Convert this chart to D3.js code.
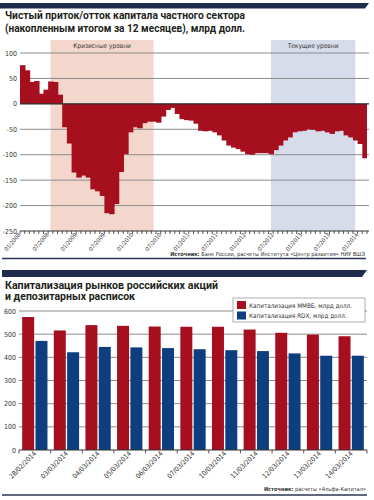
<!DOCTYPE html>
<html>
<head>
<meta charset="utf-8">
<script src="https://cdn.jsdelivr.net/npm/d3@7"></script>
<style>
body { margin: 0; background: #fff; }
svg { display: block; }
text { font-family: "Liberation Sans Narrow", "DejaVu Sans Condensed", "Roboto", sans-serif; fill: #333; }
.title { font-family: "Roboto", "Noto Sans", sans-serif; font-weight: bold; fill: #231f20; }
</style>
</head>
<body>
<svg id="chart" width="374" height="500"></svg>
<script>
// Top chart: monthly net private capital flow, bn USD
const months = [
    '01/2008','02/2008','03/2008','04/2008','05/2008','06/2008','07/2008','08/2008','09/2008','10/2008','11/2008','12/2008',
    '01/2009','02/2009','03/2009','04/2009','05/2009','06/2009','07/2009','08/2009','09/2009','10/2009','11/2009','12/2009',
    '01/2010','02/2010','03/2010','04/2010','05/2010','06/2010','07/2010','08/2010','09/2010','10/2010','11/2010','12/2010',
    '01/2011','02/2011','03/2011','04/2011','05/2011','06/2011','07/2011','08/2011','09/2011','10/2011','11/2011','12/2011',
    '01/2012','02/2012','03/2012','04/2012','05/2012','06/2012','07/2012','08/2012','09/2012','10/2012','11/2012','12/2012',
    '01/2013','02/2013','03/2013','04/2013','05/2013','06/2013','07/2013','08/2013','09/2013','10/2013','11/2013','12/2013',
    '01/2014','02/2014'
];
const flows = [
    76, 66, 43, 45, 20, 28, 44, 43, 18, -46, -78, -135,
    -145, -141, -145, -168, -172, -181, -215, -217, -197, -134, -99, -56,
    -46, -48, -38, -35, -35, -37, -25, -12, -8, -20, -30, -32,
    -33, -39, -53, -54, -53, -56, -62, -72, -82, -86, -89, -94,
    -99, -100, -97, -97, -97, -99, -91, -82, -72, -66, -56, -54,
    -53, -50, -51, -54, -53, -56, -59, -54, -53, -62, -66, -72,
    -79, -107
];
const monthTicks = ['01/2008','07/2008','01/2009','07/2009','01/2010','07/2010','01/2011',
    '07/2011','01/2012','07/2012','01/2013','07/2013','01/2014'];
const flowTicks = [100, 50, 0, -50, -100, -150, -200, -250];
const zoneLabels = ['Кризисные уровни', 'Текущие уровни'];
const zoneFrom = ['07/2008', '06/2012'];
const zoneTo = ['05/2010', '12/2013'];

// Bottom chart: market capitalisation, bn USD
const dates = ['28/02/2014','03/03/2014','04/03/2014','05/03/2014','06/03/2014','07/03/2014',
    '10/03/2014','11/03/2014','12/03/2014','13/03/2014','14/03/2014'];
const mmvb = [574, 516, 539, 536, 533, 532, 532, 520, 506, 498, 491];
const rdx = [471, 422, 445, 443, 440, 435, 431, 427, 417, 407, 407];
const capTicks = [0, 100, 200, 300, 400, 500, 600];
const seriesNames = ['Капитализация ММВБ, млрд долл.', 'Капитализация RDX, млрд долл.'];

const RED = '#a50f1e';
const BLUE = '#0d3f7e';
const NAVY = '#1f2c4d';
const GRID = '#8c8c8c';

const svg = d3.select('#chart');

// header stripes
svg.append('path').attr('d', 'M0,3 L369,3 L365,8.5 L0,8.5 Z').attr('fill', NAVY);
svg.append('path').attr('d', 'M2,270 L367,270 L362,277 L2,277 Z').attr('fill', NAVY);

// titles
function title(str, x, y, len) {
    svg.append('text').attr('class', 'title')
        .attr('x', x).attr('y', y)
        .attr('font-size', 10)
        .attr('textLength', len).attr('lengthAdjust', 'spacingAndGlyphs')
        .text(str);
}
title('Чистый приток/отток капитала частного сектора', 5, 19, 240);
title('(накопленным итогом за 12 месяцев), млрд долл.', 5, 31.5, 240);
title('Капитализация рынков российских акций', 5, 289, 213);
title('и депозитарных расписок', 5, 300, 130);

// ---------- top chart ----------
const xTop = d3.scaleBand().domain(months).range([20, 367]).padding(0);
const yTop = d3.scaleLinear().domain([-250, 100]).range([231, 53]);
const bw = xTop.bandwidth();

const topG = svg.append('g');

// shaded zones
zoneLabels.forEach((label, i) => {
    const x0 = xTop(zoneFrom[i]) + bw / 2;
    const x1 = xTop(zoneTo[i]) + bw / 2;
    topG.append('rect')
        .attr('x', x0).attr('y', yTop(100) - 13)
        .attr('width', x1 - x0).attr('height', yTop(-250) - yTop(100) + 13)
        .attr('fill', i === 0 ? '#f3d6cc' : '#d7dcea');
    topG.append('text')
        .attr('x', (x0 + x1) / 2).attr('y', yTop(100) - 5)
        .attr('text-anchor', 'middle').attr('font-size', 6.5).attr('fill', '#444')
        .text(label);
});

// grid lines
topG.selectAll('.grid').data(flowTicks.filter(d => d !== 0 && d !== -250))
    .enter().append('line')
    .attr('x1', 20).attr('x2', 369)
    .attr('y1', d => yTop(d)).attr('y2', d => yTop(d))
    .attr('stroke', GRID).attr('stroke-width', 1);

// bars (slightly overlapped so no seams show)
topG.selectAll('.bar').data(flows)
    .enter().append('rect')
    .attr('x', (d, i) => xTop(months[i]))
    .attr('width', (d, i) => i === flows.length - 1 ? bw : bw + 0.8)
    .attr('y', d => yTop(Math.max(0, d)))
    .attr('height', d => Math.abs(yTop(d) - yTop(0)))
    .attr('fill', RED);

// zero line
topG.append('line')
    .attr('x1', 20).attr('x2', 369)
    .attr('y1', yTop(0)).attr('y2', yTop(0))
    .attr('stroke', '#2a2a2a').attr('stroke-width', 1.2);

// y labels
topG.selectAll('.ylab').data(flowTicks)
    .enter().append('text')
    .attr('x', 17).attr('y', d => yTop(d) + 2.5)
    .attr('text-anchor', 'end').attr('font-size', 7)
    .text(d => d);

// x axis with month ticks
const axisY = yTop(-250);
topG.append('line')
    .attr('x1', 20).attr('x2', 369)
    .attr('y1', axisY).attr('y2', axisY)
    .attr('stroke', '#333').attr('stroke-width', 1);
topG.selectAll('.tick').data(months.concat(['end']))
    .enter().append('line')
    .attr('x1', (d, i) => 20 + i * bw).attr('x2', (d, i) => 20 + i * bw)
    .attr('y1', axisY).attr('y2', axisY + 3)
    .attr('stroke', '#333').attr('stroke-width', 0.8);
topG.selectAll('.xlab').data(monthTicks)
    .enter().append('text')
    .attr('transform', d => `translate(${xTop(d) + 1},${axisY + 4}) rotate(-50)`)
    .attr('text-anchor', 'end').attr('font-size', 5.8)
    .text(d => d);

// source
const src1 = svg.append('text')
    .attr('x', 365).attr('y', 255.5)
    .attr('text-anchor', 'end').attr('font-size', 5.6).attr('fill', '#444');
src1.append('tspan').attr('font-weight', 'bold').text('Источник:');
src1.append('tspan').text(' Банк России, расчеты Института «Центр развития» НИУ ВШЭ');
svg.append('line').attr('x1', 2).attr('x2', 366).attr('y1', 258.5).attr('y2', 258.5)
    .attr('stroke', '#2b3553').attr('stroke-width', 1.5);

// ---------- bottom chart ----------
const xBot = d3.scaleBand().domain(dates).range([19, 367]).paddingInner(0.2).paddingOuter(0.1);
const xSub = d3.scaleBand().domain(['mmvb', 'rdx']).range([0, xBot.bandwidth()]).paddingInner(0.1);
const yBot = d3.scaleLinear().domain([0, 600]).range([450, 311]);

const botG = svg.append('g');

botG.selectAll('.grid').data(capTicks.filter(d => d !== 0))
    .enter().append('line')
    .attr('x1', 19).attr('x2', 367)
    .attr('y1', d => yBot(d)).attr('y2', d => yBot(d))
    .attr('stroke', GRID).attr('stroke-width', 1);

botG.selectAll('.mmvb').data(mmvb)
    .enter().append('rect')
    .attr('x', (d, i) => xBot(dates[i]) + xSub('mmvb'))
    .attr('width', xSub.bandwidth())
    .attr('y', d => yBot(d))
    .attr('height', d => yBot(0) - yBot(d))
    .attr('fill', RED);

botG.selectAll('.rdx').data(rdx)
    .enter().append('rect')
    .attr('x', (d, i) => xBot(dates[i]) + xSub('rdx'))
    .attr('width', xSub.bandwidth())
    .attr('y', d => yBot(d))
    .attr('height', d => yBot(0) - yBot(d))
    .attr('fill', BLUE);

// axis
botG.append('line')
    .attr('x1', 19).attr('x2', 367)
    .attr('y1', yBot(0)).attr('y2', yBot(0))
    .attr('stroke', '#333').attr('stroke-width', 1);
const step = xBot.step();
botG.selectAll('.tick').data(dates.concat(['end']))
    .enter().append('line')
    .attr('x1', (d, i) => 19 + i * step).attr('x2', (d, i) => 19 + i * step)
    .attr('y1', yBot(0)).attr('y2', yBot(0) + 3.5)
    .attr('stroke', '#333').attr('stroke-width', 0.8);

botG.selectAll('.ylab').data(capTicks)
    .enter().append('text')
    .attr('x', 16).attr('y', d => yBot(d) + 2.5)
    .attr('text-anchor', 'end').attr('font-size', 7)
    .text(d => d);

botG.selectAll('.xlab').data(dates)
    .enter().append('text')
    .attr('transform', d => `translate(${xBot(d) + xBot.bandwidth() / 2 + 2},${yBot(0) + 4}) rotate(-45)`)
    .attr('text-anchor', 'end').attr('font-size', 6.8)
    .text(d => d);

// legend
const legend = botG.append('g').attr('transform', 'translate(233,298)');
legend.append('rect').attr('width', 132).attr('height', 24)
    .attr('fill', '#fff').attr('stroke', '#999').attr('stroke-width', 0.8);
seriesNames.forEach((name, i) => {
    legend.append('rect')
        .attr('x', 4).attr('y', 3 + i * 10.5)
        .attr('width', 9).attr('height', 8)
        .attr('fill', i === 0 ? RED : BLUE);
    legend.append('text')
        .attr('x', 16).attr('y', 9.5 + i * 10.5)
        .attr('font-size', 6.3)
        .text(name);
});

// source
const src2 = svg.append('text')
    .attr('x', 366).attr('y', 491)
    .attr('text-anchor', 'end').attr('font-size', 5.6).attr('fill', '#444');
src2.append('tspan').attr('font-weight', 'bold').text('Источник:');
src2.append('tspan').text(' расчеты «Альфа-Капитал»');
svg.append('line').attr('x1', 2).attr('x2', 367).attr('y1', 495).attr('y2', 495)
    .attr('stroke', '#2b3553').attr('stroke-width', 1.5);
</script>
</body>
</html>
